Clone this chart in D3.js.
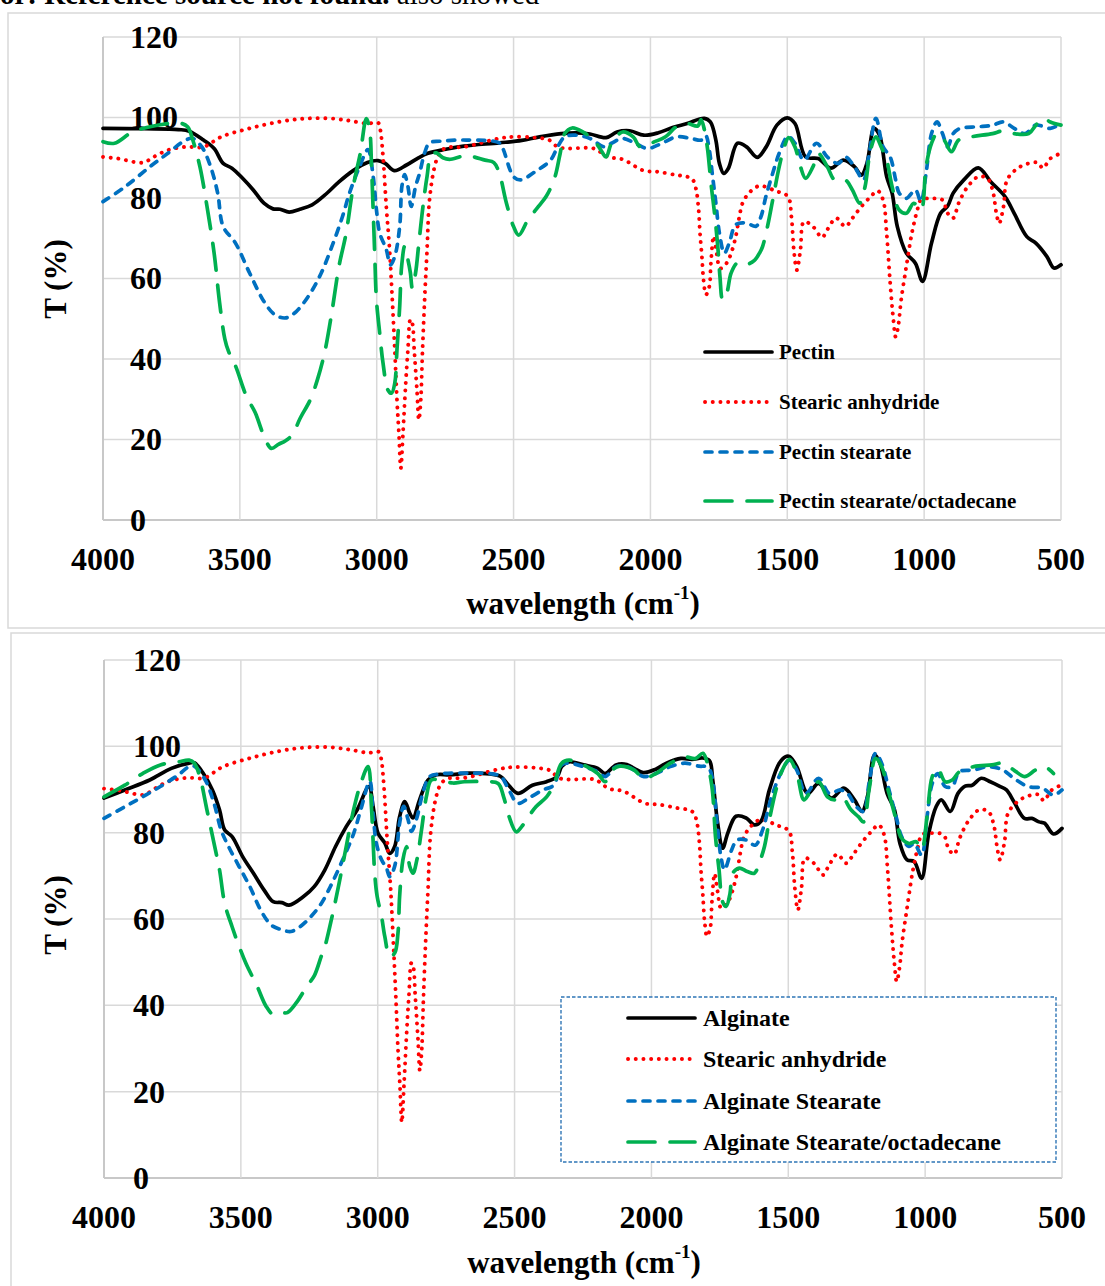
<!DOCTYPE html>
<html>
<head>
<meta charset="utf-8">
<script src="https://cdn.jsdelivr.net/npm/d3@7"></script>
<style>
  html, body { margin: 0; padding: 0; background: #fff; }
  svg { display: block; }
  text { font-family: "Liberation Serif", "Times New Roman", serif; }
</style>
</head>
<body>
<svg id="chart" width="1105" height="1286"></svg>
<script>
// ---------------- DATA ----------------
const xTicks = [4000, 3500, 3000, 2500, 2000, 1500, 1000, 500];
const yTicks = [0, 20, 40, 60, 80, 100, 120];
const xTitle = "wavelength (cm";
const xTitleSup = "-1";
const yTitle = "T (%)";
const topNames = ["Pectin", "Stearic anhydride", "Pectin stearate", "Pectin stearate/octadecane"];
const bottomNames = ["Alginate", "Stearic anhydride", "Alginate Stearate", "Alginate Stearate/octadecane"];

// [wavenumber, T%]
const pectin = [[4000,97.3],[3850,97.2],[3724,97.0],[3685,96.6],[3633,94.4],[3594,92.3],[3561,88.6],[3529,87.4],[3490,84.9],[3451,82.0],[3412,78.7],[3379,77.3],[3353,77.2],[3320,76.5],[3281,77.2],[3236,78.3],[3190,80.7],[3138,84.0],[3086,86.8],[3034,88.8],[2995,89.3],[2969,88.6],[2936,86.8],[2891,88.2],[2852,89.8],[2813,91.1],[2747,92.1],[2682,92.9],[2552,93.7],[2470,94.3],[2405,95.2],[2326,96.0],[2273,96.2],[2221,95.9],[2162,95.0],[2122,96.4],[2076,96.7],[2024,95.6],[1971,96.2],[1919,97.5],[1866,98.5],[1803,99.8],[1781,98.9],[1761,94.4],[1748,88.6],[1732,86.1],[1715,87.4],[1682,93.6],[1649,92.7],[1610,90.1],[1577,92.7],[1538,98.1],[1500,99.9],[1472,98.5],[1433,90.2],[1387,89.8],[1341,87.4],[1295,89.4],[1255,87.8],[1229,85.7],[1209,88.6],[1183,97.3],[1163,95.6],[1137,85.3],[1117,81.2],[1098,72.9],[1065,66.3],[1032,63.8],[1006,59.3],[973,68.8],[940,76.2],[914,78.0],[894,81.2],[855,84.5],[802,87.5],[756,84.0],[704,80.3],[671,76.2],[625,70.4],[592,68.8],[552,65.5],[526,62.6],[500,63.4]];

const stearicAnhydride = [[4000,90.2],[3945,89.8],[3854,88.8],[3815,90.2],[3763,91.9],[3698,92.7],[3633,92.7],[3568,95.2],[3464,97.3],[3359,98.9],[3268,99.7],[3177,99.8],[3099,99.2],[3034,98.5],[2995,98.7],[2987,97.0],[2977,90.4],[2965,77.9],[2953,67.2],[2943,54.7],[2934,42.3],[2926,29.9],[2919,21.6],[2912,12.9],[2904,21.6],[2894,34.0],[2886,42.3],[2877,49.8],[2870,48.9],[2863,42.3],[2853,32.3],[2846,24.9],[2839,29.9],[2833,41.5],[2825,54.7],[2816,67.2],[2807,79.6],[2788,87.9],[2770,91.2],[2746,92.5],[2682,92.7],[2552,94.8],[2500,95.2],[2422,95.0],[2370,94.4],[2339,92.7],[2300,92.3],[2207,92.3],[2155,90.2],[2102,89.6],[2024,86.8],[1971,86.5],[1905,85.7],[1866,85.3],[1846,84.6],[1833,82.1],[1824,77.1],[1819,71.3],[1812,65.5],[1806,59.7],[1797,56.0],[1785,58.0],[1779,63.9],[1769,70.5],[1758,66.3],[1745,62.5],[1721,63.9],[1705,66.3],[1688,70.5],[1675,75.4],[1663,78.8],[1639,81.3],[1602,83.0],[1541,81.7],[1498,80.4],[1485,75.4],[1476,67.1],[1465,62.1],[1452,67.1],[1439,74.1],[1406,72.9],[1373,70.2],[1354,72.1],[1321,75.0],[1288,72.9],[1262,75.0],[1229,77.9],[1196,80.3],[1170,81.8],[1150,79.5],[1137,71.2],[1124,58.8],[1112,49.5],[1104,45.5],[1094,48.5],[1084,54.7],[1065,63.0],[1045,71.2],[1025,77.0],[1012,79.5],[973,79.9],[933,79.5],[914,76.2],[894,75.0],[874,78.7],[841,82.8],[802,85.3],[769,84.9],[750,82.0],[736,76.2],[726,73.7],[710,77.9],[697,84.5],[658,87.4],[618,88.6],[585,88.8],[566,87.4],[539,89.8],[500,91.1]];

const pectinStearate = [[4000,79.1],[3919,82.8],[3828,87.8],[3763,91.1],[3698,94.4],[3672,94.8],[3639,92.7],[3607,87.8],[3581,81.2],[3561,72.9],[3516,68.8],[3464,61.3],[3412,54.3],[3372,51.0],[3333,50.2],[3294,51.8],[3242,56.4],[3203,61.3],[3164,67.9],[3125,75.4],[3099,81.3],[3062,87.9],[3032,92.0],[3013,85.4],[3001,77.1],[2989,71.3],[2965,67.2],[2950,63.4],[2934,65.5],[2916,73.0],[2908,82.9],[2898,85.8],[2886,82.9],[2874,77.9],[2858,82.9],[2843,86.2],[2825,91.2],[2807,93.7],[2770,94.1],[2673,94.4],[2552,93.7],[2539,92.3],[2500,85.3],[2474,84.5],[2422,86.5],[2365,89.4],[2339,92.7],[2313,95.2],[2273,95.6],[2221,94.8],[2168,92.7],[2142,93.6],[2102,94.8],[2056,93.6],[2011,92.3],[1958,93.6],[1905,95.2],[1853,94.8],[1813,94.4],[1798,95.5],[1785,92.0],[1773,85.4],[1761,78.8],[1748,71.3],[1730,66.3],[1712,68.8],[1688,73.4],[1651,73.8],[1614,73.0],[1596,75.4],[1578,80.4],[1553,86.2],[1529,91.2],[1498,95.3],[1472,93.6],[1439,89.4],[1393,93.6],[1354,90.2],[1314,88.6],[1288,90.2],[1255,87.8],[1222,84.5],[1203,90.2],[1176,99.8],[1150,92.7],[1124,90.2],[1104,84.5],[1091,81.2],[1065,79.9],[1032,82.0],[1012,79.1],[993,86.1],[973,96.0],[953,98.9],[933,96.0],[914,92.7],[894,96.0],[868,97.3],[802,97.7],[750,98.1],[710,98.9],[671,97.3],[631,96.0],[592,98.1],[539,97.3],[500,98.5]];

const pectinStearateOctadecane = [[4000,94.0],[3958,93.6],[3893,96.4],[3828,97.7],[3763,98.5],[3724,98.7],[3691,97.7],[3672,94.4],[3646,87.8],[3620,77.9],[3594,66.3],[3574,54.0],[3555,45.0],[3542,42.0],[3516,38.3],[3477,30.9],[3444,26.7],[3412,20.9],[3385,17.8],[3359,18.8],[3333,19.7],[3307,21.3],[3281,25.1],[3242,30.0],[3216,35.0],[3190,41.7],[3164,51.6],[3138,63.0],[3112,71.2],[3086,82.8],[3060,91.1],[3038,99.7],[3026,97.0],[3019,87.9],[3013,77.1],[3007,65.5],[3001,54.7],[2989,46.4],[2977,39.0],[2959,32.3],[2946,31.5],[2934,34.0],[2926,42.3],[2916,53.1],[2909,63.0],[2898,68.0],[2886,64.7],[2877,61.4],[2870,57.6],[2858,61.4],[2846,68.8],[2831,77.9],[2816,85.4],[2801,90.8],[2782,91.2],[2758,90.0],[2734,89.6],[2673,90.5],[2604,89.4],[2572,88.8],[2552,86.1],[2526,78.7],[2500,72.9],[2481,70.8],[2448,74.5],[2409,77.9],[2380,80.5],[2350,85.0],[2330,91.0],[2313,96.0],[2286,97.4],[2247,96.4],[2207,94.4],[2181,91.9],[2162,90.2],[2142,93.6],[2102,96.4],[2063,95.2],[2037,92.7],[1984,94.0],[1945,95.2],[1905,97.7],[1866,98.5],[1827,97.9],[1815,99.5],[1803,97.0],[1791,92.0],[1779,83.8],[1766,76.3],[1754,68.0],[1746,60.5],[1736,54.7],[1721,56.4],[1705,61.4],[1680,64.0],[1650,63.5],[1620,64.5],[1600,66.5],[1590,68.0],[1572,73.0],[1553,79.6],[1529,87.9],[1510,92.9],[1495,95.0],[1472,92.7],[1452,87.8],[1433,84.9],[1406,87.8],[1387,91.1],[1354,87.8],[1327,84.5],[1288,84.5],[1262,82.0],[1236,78.7],[1216,82.8],[1196,91.9],[1176,95.2],[1157,92.7],[1137,89.4],[1117,82.8],[1091,77.0],[1065,76.2],[1038,78.7],[1012,77.0],[993,87.8],[973,93.6],[953,96.0],[927,94.4],[900,91.5],[874,94.4],[828,95.2],[750,96.0],[710,96.7],[671,96.0],[618,96.0],[592,98.1],[566,99.8],[539,98.9],[500,98.1]];

const alginate = [[4000,88.0],[3924,89.9],[3833,92.2],[3754,94.9],[3689,96.1],[3670,96.2],[3637,93.7],[3604,89.9],[3578,85.3],[3559,80.6],[3532,79.1],[3493,74.4],[3454,70.6],[3415,66.7],[3382,64.0],[3350,63.8],[3324,63.2],[3271,65.2],[3232,67.5],[3193,71.4],[3154,76.8],[3115,81.4],[3075,85.3],[3032,90.7],[3017,86.1],[2999,79.9],[2974,77.6],[2956,75.2],[2938,76.8],[2920,83.7],[2901,87.2],[2883,84.5],[2871,83.4],[2847,87.6],[2816,92.2],[2786,93.4],[2737,93.4],[2664,93.8],[2553,93.1],[2527,91.4],[2488,89.1],[2435,91.0],[2383,91.8],[2344,93.0],[2328,95.3],[2301,96.4],[2248,95.7],[2196,94.9],[2169,93.7],[2129,95.7],[2090,95.8],[2063,94.9],[2030,93.9],[1984,94.7],[1945,96.1],[1892,97.2],[1852,97.0],[1813,97.3],[1788,96.7],[1776,92.2],[1758,82.2],[1740,76.4],[1721,79.9],[1691,83.8],[1654,83.4],[1624,81.8],[1600,82.6],[1569,89.9],[1533,96.1],[1506,97.7],[1495,97.6],[1469,95.3],[1429,89.1],[1389,91.4],[1343,88.0],[1297,90.3],[1258,87.6],[1231,84.9],[1211,88.3],[1185,98.0],[1165,96.1],[1139,89.1],[1112,85.3],[1092,77.5],[1066,73.7],[1040,73.3],[1013,69.4],[987,79.8],[960,86.0],[941,87.6],[908,84.9],[880,89.1],[854,90.8],[828,91.0],[795,92.6],[762,91.8],[729,90.8],[703,89.9],[676,87.2],[637,83.3],[610,83.3],[584,82.5],[564,82.2],[531,79.7],[500,81.0]];

const alginateStearate = [[4000,83.3],[3924,86.0],[3859,88.3],[3794,90.7],[3728,93.4],[3689,95.3],[3670,95.4],[3630,92.2],[3598,86.8],[3572,80.6],[3545,76.8],[3506,72.1],[3467,67.5],[3428,62.1],[3389,58.6],[3350,57.5],[3317,57.1],[3284,58.2],[3245,60.5],[3206,63.6],[3167,68.3],[3128,73.7],[3088,79.8],[3062,85.3],[3029,91.9],[3017,84.5],[3005,77.6],[2986,73.7],[2968,71.8],[2956,69.8],[2938,72.2],[2920,82.2],[2905,86.1],[2889,83.0],[2877,80.3],[2859,83.0],[2835,89.2],[2810,93.0],[2774,93.6],[2676,93.8],[2553,93.1],[2527,90.7],[2488,86.8],[2449,88.0],[2396,89.9],[2357,91.0],[2328,95.7],[2301,96.1],[2248,95.3],[2196,94.1],[2169,93.0],[2129,95.3],[2090,95.3],[2063,94.5],[2030,93.0],[1984,93.7],[1931,95.3],[1878,96.1],[1826,95.4],[1799,95.3],[1786,94.5],[1773,90.7],[1760,82.2],[1746,74.4],[1733,71.4],[1707,76.0],[1687,78.3],[1654,78.3],[1621,77.1],[1594,80.6],[1561,88.3],[1522,94.5],[1495,96.8],[1469,94.5],[1436,89.1],[1389,92.6],[1350,89.1],[1310,89.9],[1284,89.1],[1251,86.0],[1225,84.9],[1205,91.4],[1181,98.4],[1159,96.1],[1132,89.9],[1106,83.7],[1086,79.1],[1059,76.8],[1040,77.5],[1013,74.8],[993,83.7],[974,91.4],[954,93.7],[927,90.7],[901,90.7],[875,94.1],[822,94.5],[769,95.3],[716,94.5],[676,92.6],[624,90.7],[571,90.3],[531,88.7],[500,89.9]];

const alginateStearateOctadecane = [[4000,88.3],[3924,91.0],[3859,93.7],[3794,95.7],[3728,96.4],[3689,96.8],[3670,96.1],[3650,93.0],[3624,85.3],[3598,77.5],[3578,71.4],[3559,63.6],[3532,58.2],[3506,53.6],[3480,49.5],[3441,44.5],[3408,39.8],[3382,37.9],[3350,38.3],[3330,38.3],[3297,40.6],[3258,44.5],[3232,46.8],[3206,51.4],[3193,53.6],[3167,60.5],[3141,68.3],[3115,76.8],[3088,85.3],[3062,91.4],[3035,95.3],[3023,86.1],[3017,78.3],[3011,70.6],[3002,65.2],[2986,60.6],[2974,55.9],[2956,51.3],[2938,52.1],[2926,56.7],[2920,65.2],[2908,73.7],[2895,76.8],[2883,72.2],[2871,70.6],[2857,73.7],[2840,80.6],[2822,88.4],[2804,92.2],[2774,92.2],[2725,91.5],[2684,91.8],[2605,91.8],[2560,91.4],[2540,88.3],[2520,83.7],[2494,80.2],[2474,81.4],[2449,83.7],[2422,86.0],[2383,88.3],[2357,91.0],[2328,96.1],[2301,96.8],[2248,95.7],[2196,93.7],[2169,91.8],[2143,94.5],[2116,95.4],[2063,94.5],[2030,92.6],[1984,93.7],[1931,96.1],[1878,97.5],[1839,97.2],[1812,98.4],[1799,96.8],[1779,90.7],[1766,79.1],[1753,71.4],[1740,64.0],[1727,62.9],[1713,65.9],[1703,70.6],[1679,71.8],[1650,71.0],[1624,70.6],[1606,73.0],[1587,76.8],[1569,83.0],[1545,89.9],[1521,94.6],[1496,97.0],[1469,93.7],[1443,87.6],[1423,89.1],[1389,91.8],[1357,88.3],[1330,87.6],[1304,88.3],[1271,85.3],[1244,83.7],[1225,82.5],[1205,89.9],[1181,97.2],[1159,95.3],[1132,89.1],[1106,83.0],[1086,78.7],[1059,77.5],[1033,77.9],[1013,76.0],[993,83.7],[974,93.0],[954,94.9],[927,91.8],[901,92.2],[875,94.1],[822,95.3],[756,95.7],[716,96.1],[676,94.5],[637,93.0],[597,94.5],[564,95.3],[531,93.7]];

// ---------------- STYLES ----------------
const seriesStyles = [
  { color: "#000000", dash: null, cap: "round", width: 3.7 },
  { color: "#FF0000", dash: "0.1 7.6", cap: "round", width: 3.9 },
  { color: "#0070C0", dash: "7 8", cap: "round", width: 3.7 },
  { color: "#00B050", dash: "27 15", cap: "round", width: 3.7 }
];

const svg = d3.select("#chart");

// header fragment (cut off at the top edge, as in the original page)
svg.append("text")
  .attr("x", 0).attr("y", 4)
  .attr("font-size", 29)
  .call(t => {
    t.append("tspan").attr("font-weight", "bold").text("or! Reference source not found.");
    t.append("tspan").attr("font-weight", "normal").text(" also showed");
  });

function drawPanel(p, seriesList, names) {
  // outer frame
  svg.append("rect")
    .attr("x", p.frame.x).attr("y", p.frame.y)
    .attr("width", p.frame.w).attr("height", p.frame.h)
    .attr("fill", "none").attr("stroke", "#D9D9D9").attr("stroke-width", 1.5);

  const x = d3.scaleLinear().domain([4000, 500]).range([p.left, p.right]);
  const y = d3.scaleLinear().domain([0, 120]).range([p.bottom, p.top]);

  const g = svg.append("g");

  // gridlines
  g.selectAll(".hg").data(yTicks).join("line")
    .attr("x1", p.left).attr("x2", p.right)
    .attr("y1", d => y(d)).attr("y2", d => y(d))
    .attr("stroke", d => d === 0 ? "#C8C8C8" : "#D9D9D9")
    .attr("stroke-width", d => d === 0 ? 2 : 1.5);
  g.selectAll(".vg").data(xTicks).join("line")
    .attr("x1", d => x(d)).attr("x2", d => x(d))
    .attr("y1", p.top).attr("y2", p.bottom)
    .attr("stroke", d => d === 4000 ? "#C8C8C8" : "#D9D9D9")
    .attr("stroke-width", d => d === 4000 ? 2 : 1.5);

  // y tick labels (left-aligned, inside the axis as in the original)
  g.selectAll(".yl").data(yTicks).join("text")
    .attr("x", p.yLabelX).attr("y", d => y(d)).attr("dy", "0.34em")
    .attr("font-size", 32).attr("font-weight", "bold").attr("fill", "#000")
    .text(d => d);

  // x tick labels
  g.selectAll(".xl").data(xTicks).join("text")
    .attr("x", d => x(d)).attr("y", p.xLabelY).attr("dy", "0.34em")
    .attr("text-anchor", "middle")
    .attr("font-size", 32).attr("font-weight", "bold").attr("fill", "#000")
    .text(d => d);

  // axis titles
  const xt = g.append("text")
    .attr("x", (p.left + p.right) / 2 + 1).attr("y", p.titleY).attr("dy", "0.34em")
    .attr("text-anchor", "middle")
    .attr("font-size", 31).attr("font-weight", "bold");
  xt.append("tspan").text(xTitle);
  xt.append("tspan").attr("font-size", 19).attr("dy", "-0.75em").text(xTitleSup);
  xt.append("tspan").attr("dy", "0.45em").text(")");

  g.append("text")
    .attr("transform", `translate(${p.tX},${p.tY}) rotate(-90)`)
    .attr("text-anchor", "middle").attr("dy", "0.34em")
    .attr("font-size", 31).attr("font-weight", "bold")
    .text(yTitle);

  // series
  const line = d3.line()
    .x(d => x(d[0])).y(d => y(d[1]))
    .curve(d3.curveCatmullRom.alpha(0.5));

  seriesList.forEach((data, i) => {
    const st = seriesStyles[i];
    g.append("path")
      .datum(data)
      .attr("d", line)
      .attr("fill", "none")
      .attr("stroke", st.color)
      .attr("stroke-width", st.width)
      .attr("stroke-linecap", st.cap)
      .attr("stroke-linejoin", "round")
      .attr("stroke-dasharray", st.dash);
  });

  // legend
  const L = p.legend;
  if (L.box) {
    g.append("rect")
      .attr("x", L.box[0]).attr("y", L.box[1])
      .attr("width", L.box[2] - L.box[0]).attr("height", L.box[3] - L.box[1])
      .attr("fill", "#fff").attr("stroke", "#2E75B6")
      .attr("stroke-width", 1.4).attr("stroke-dasharray", "3.5 2");
  }
  names.forEach((nm, i) => {
    const st = seriesStyles[i];
    const yy = L.ys[i];
    g.append("line")
      .attr("x1", L.x1).attr("x2", L.x2).attr("y1", yy).attr("y2", yy)
      .attr("stroke", st.color).attr("stroke-width", st.width)
      .attr("stroke-linecap", st.cap)
      .attr("stroke-dasharray", st.dash);
    g.append("text")
      .attr("x", L.tx).attr("y", yy).attr("dy", "0.32em")
      .attr("font-size", L.fs).attr("font-weight", "bold")
      .text(nm);
  });
}

drawPanel({
  frame: { x: 8, y: 13, w: 1200, h: 615 },
  left: 103, right: 1061, top: 37, bottom: 520,
  yLabelX: 130, xLabelY: 559, titleY: 603, tX: 55, tY: 279,
  legend: { x1: 705, x2: 772, tx: 779, ys: [352, 402, 452, 501], fs: 21 }
}, [pectin, stearicAnhydride, pectinStearate, pectinStearateOctadecane], topNames);

drawPanel({
  frame: { x: 11, y: 633, w: 1200, h: 800 },
  left: 104, right: 1062, top: 660, bottom: 1178,
  yLabelX: 133, xLabelY: 1217, titleY: 1262, tX: 55, tY: 915,
  legend: { x1: 628, x2: 695, tx: 703, ys: [1018, 1059, 1101, 1142], fs: 24,
            box: [561, 997, 1056, 1162] }
}, [alginate, stearicAnhydride, alginateStearate, alginateStearateOctadecane], bottomNames);
</script>
</body>
</html>
